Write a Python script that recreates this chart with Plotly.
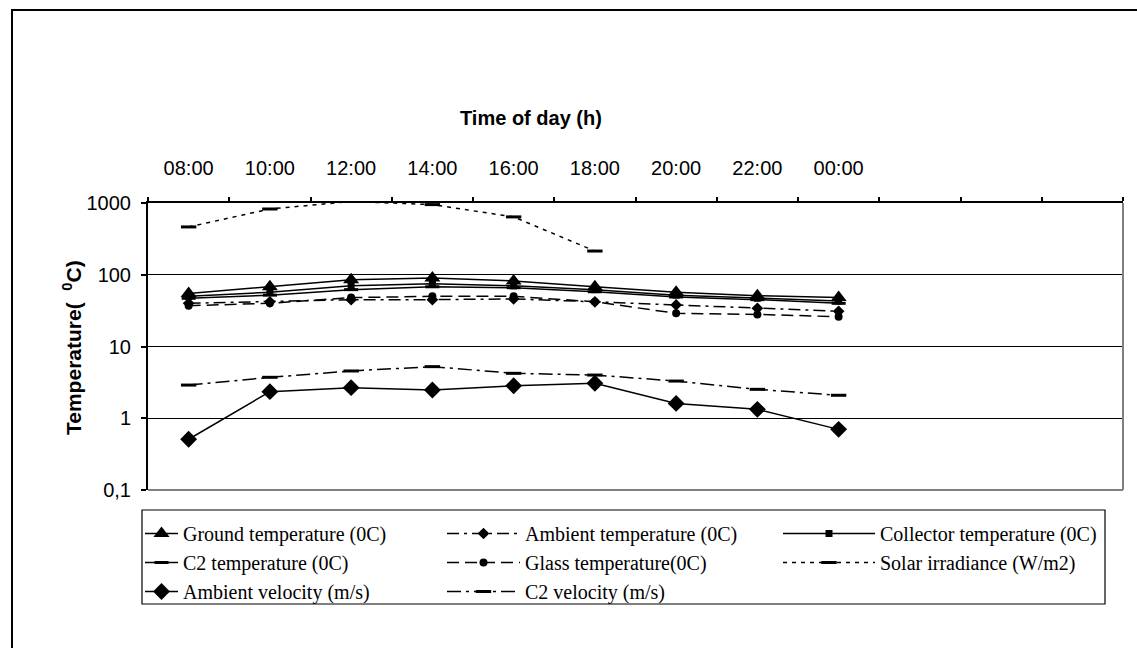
import plotly.graph_objects as go

# ---------------- data ----------------
times = ["08:00", "10:00", "12:00", "14:00", "16:00", "18:00", "20:00", "22:00", "00:00"]
empty_slots = [" ", "  ", "   "]

ground_temp = [55, 68, 85, 90, 82, 68, 57, 51, 48]
ambient_temp = [40, 42, 45, 45, 46, 42, 38, 34, 31]
collector_temp = [50, 57, 70, 75, 70, 62, 52, 47, 43]
c2_temp = [47, 52, 62, 68, 66, 58, 49, 45, 40]
glass_temp = [37, 40, 48, 50, 50, 42, 29, 28, 26]
solar_irradiance = [464, 825, 1050, 950, 640, 214, None, None, None]
ambient_velocity = [0.51, 2.35, 2.67, 2.48, 2.84, 3.07, 1.61, 1.33, 0.70]
c2_velocity = [2.9, 3.72, 4.56, 5.24, 4.23, 4.0, 3.3, 2.53, 2.09]

y_tickvals = [0.1, 1, 10, 100, 1000]
y_ticktext = ["0,1", "1", "10", "100", "1000"]

# ---------------- layout geometry ----------------
W, H = 1137, 648
L, R, T, B = 148, 14, 203, 158
PW, PH = W - L - R, H - T - B


def px2x(px):
    return (px - L) / PW


def py2y(py):
    return (H - B - py) / PH


BLACK = "black"
LW = 1.5

fig = go.Figure()


def add(name, y, dash, symbol, size, legend, mline=0, clip=True):
    fig.add_trace(go.Scatter(
        x=times, y=y, name=name, mode="lines+markers",
        line=dict(color=BLACK, width=LW, dash=dash),
        marker=dict(symbol=symbol, size=size, color=BLACK,
                    line=dict(color=BLACK, width=mline)),
        legend=legend, cliponaxis=clip, connectgaps=False,
    ))


add("Ground temperature (0C)", ground_temp, "solid", "triangle-up", 14, "legend")
add("Ambient temperature (0C)", ambient_temp, "12px,5px,3px,5px", "diamond", 9, "legend2")
add("Collector temperature (0C)", collector_temp, "solid", "square", 7, "legend3")
add("C2 temperature (0C)", c2_temp, "solid", "line-ew", 10, "legend", mline=3)
add("Glass temperature(0C)", glass_temp, "12px,6px", "circle", 8, "legend2")
add("Solar irradiance (W/m2)", solar_irradiance, "4px,5px", "line-ew", 11, "legend3", mline=3, clip=False)
add("Ambient velocity (m/s)", ambient_velocity, "solid", "diamond", 13, "legend")
add("C2 velocity (m/s)", c2_velocity, "14px,5px,3px,5px", "line-ew", 11, "legend2", mline=3)

axis_font = dict(family="Liberation Sans, Arial, sans-serif", size=20, color=BLACK)
legend_font = dict(family="Liberation Serif, Times New Roman, serif", size=20, color=BLACK)

legend_common = dict(
    orientation="v", xref="container", yref="container",
    xanchor="left", yanchor="top", font=legend_font,
    bgcolor="rgba(0,0,0,0)", borderwidth=0, tracegroupgap=0,
)

LEG_TOP = 514

fig.update_layout(
    width=W, height=H,
    margin=dict(l=L, r=R, t=T, b=B, autoexpand=False),
    paper_bgcolor="white", plot_bgcolor="white",
    showlegend=True,
    legend=dict(x=140 / W, y=1 - LEG_TOP / H, itemwidth=33, **legend_common),
    legend2=dict(x=442 / W, y=1 - LEG_TOP / H, itemwidth=73, **legend_common),
    legend3=dict(x=778 / W, y=1 - LEG_TOP / H, itemwidth=92, **legend_common),
    xaxis=dict(
        type="category", categoryorder="array",
        categoryarray=times + empty_slots,
        range=[-0.5, len(times) + len(empty_slots) - 0.5],
        side="top", showline=True, linecolor=BLACK, linewidth=2,
        ticks="outside", tickson="boundaries", ticklen=4, tickwidth=1.5,
        tickcolor=BLACK, showgrid=False, zeroline=False,
        tickfont=axis_font, ticklabelstandoff=18, tickangle=0,
        automargin=False,
    ),
    yaxis=dict(
        type="log", range=[-1, 3],
        tickvals=y_tickvals, ticktext=y_ticktext,
        showline=True, linecolor=BLACK, linewidth=2,
        ticks="outside", ticklen=5, tickwidth=1.5, tickcolor=BLACK,
        showgrid=True, gridcolor=BLACK, gridwidth=1.2,
        zeroline=False, tickfont=axis_font, ticklabelstandoff=6,
        automargin=False,
    ),
    annotations=[
        dict(text="<b>Time of day (h)</b>", xref="paper", yref="paper",
             x=px2x(531), y=py2y(118), showarrow=False,
             font=axis_font, xanchor="center", yanchor="middle"),
        dict(text="<b>Temperature(&nbsp;&nbsp;<sup>0</sup>C)</b>", xref="paper", yref="paper",
             x=px2x(72), y=py2y(348), showarrow=False, textangle=-90,
             font=dict(family=axis_font["family"], size=21, color=BLACK),
             xanchor="center", yanchor="middle"),
    ],
    shapes=[
        # outer chart frame
        dict(type="rect", xref="paper", yref="paper",
             x0=px2x(12), x1=px2x(1160), y0=py2y(670), y1=py2y(10),
             line=dict(color=BLACK, width=2), layer="above"),
        # grey right / bottom edges of plot area
        dict(type="line", xref="paper", yref="paper", x0=1, x1=1, y0=0, y1=1,
             line=dict(color="#808080", width=2)),
        dict(type="line", xref="paper", yref="paper", x0=0, x1=1, y0=0, y1=0,
             line=dict(color="#808080", width=2)),
        # legend box
        dict(type="rect", xref="paper", yref="paper",
             x0=px2x(142), x1=px2x(1105), y0=py2y(604), y1=py2y(510),
             line=dict(color=BLACK, width=1.2)),
    ],
)

fig.write_html(
    "out.html",
    config={"displayModeBar": False},
    post_script="document.body.style.margin='0';document.body.style.overflow='hidden';",
)
